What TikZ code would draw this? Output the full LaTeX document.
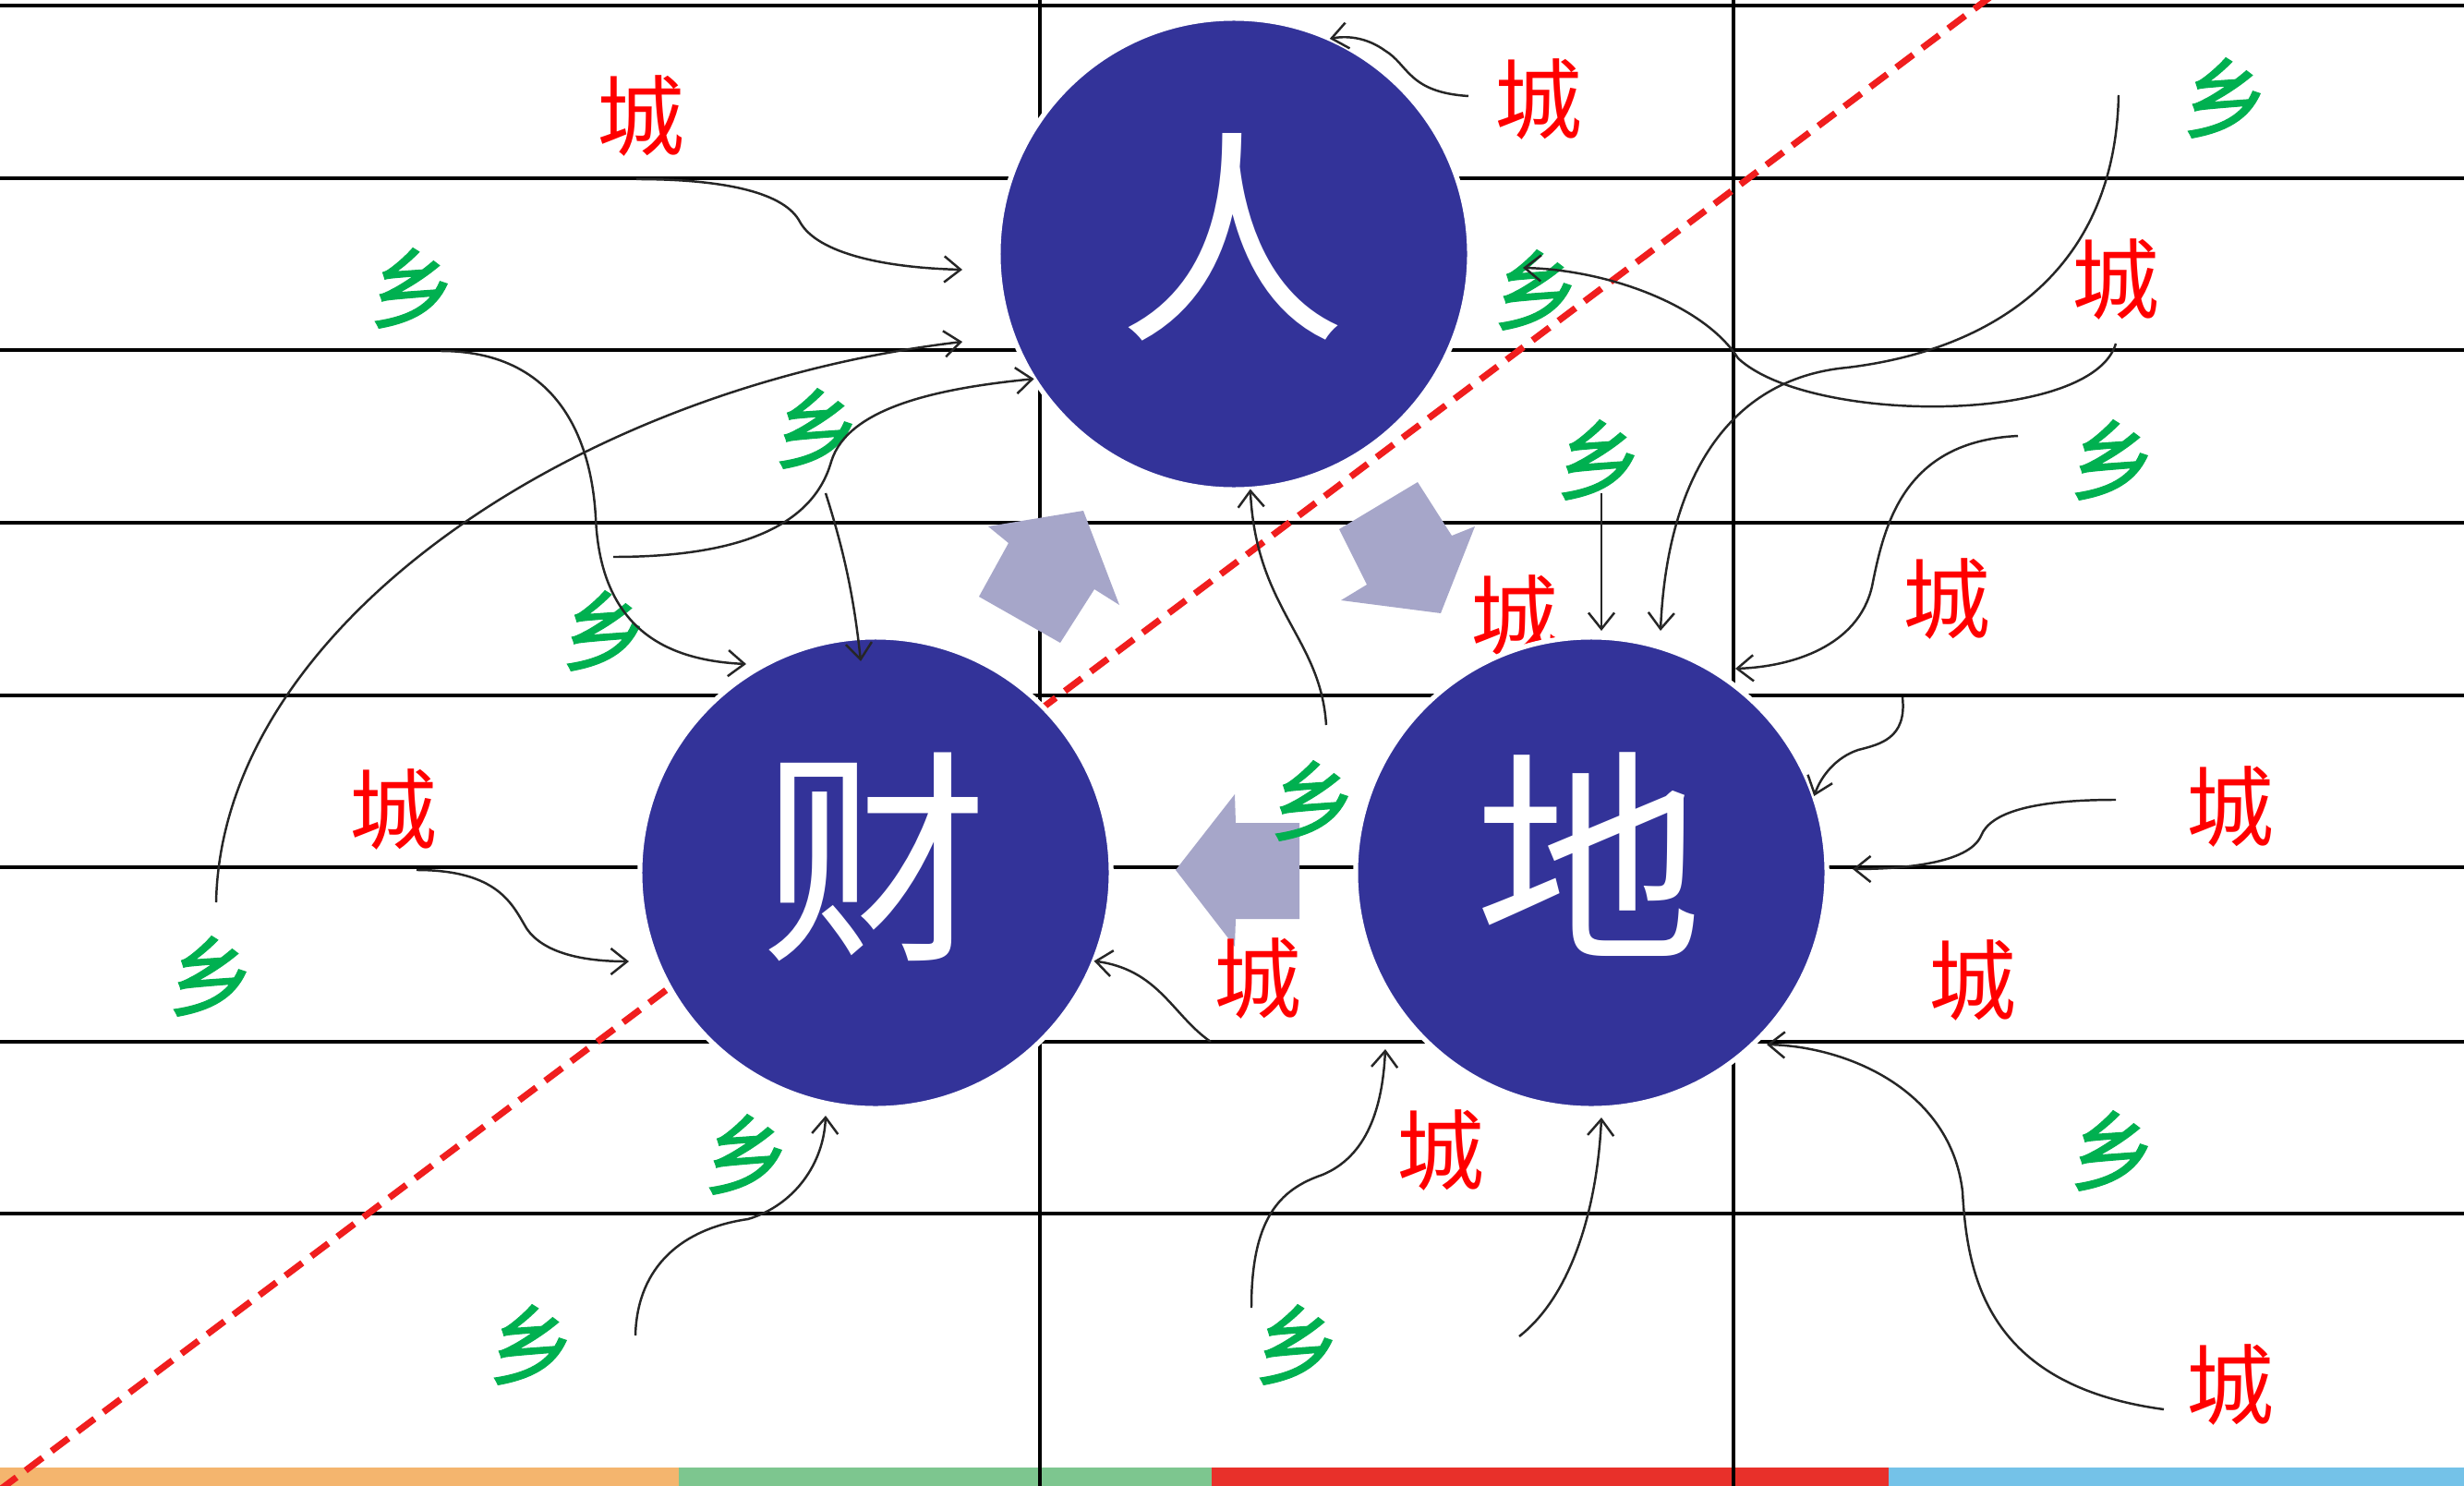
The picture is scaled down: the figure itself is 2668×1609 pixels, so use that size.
\documentclass[tikz,border=0pt]{standalone}
\usepackage{fontspec}
\newfontfamily\cjk{Noto Sans CJK SC}
\newfontfamily\cjkheavy[FakeBold=1.2]{Noto Sans CJK SC}
\usetikzlibrary{arrows.meta}
\definecolor{hubblue}{RGB}{51,51,153}
\definecolor{blockgray}{RGB}{166,166,201}
\definecolor{chengred}{RGB}{255,0,0}
\definecolor{xianggreen}{RGB}{0,176,80}
\definecolor{dividerred}{RGB}{240,30,30}
\definecolor{barorange}{RGB}{244,181,110}
\definecolor{bargreen}{RGB}{125,198,143}
\definecolor{barred}{RGB}{232,48,42}
\definecolor{barblue}{RGB}{116,194,232}
\begin{document}
\begin{tikzpicture}[x=0.01cm,y=-0.01cm,
  gridline/.style={line width=1.3pt,black},
  divider/.style={line width=2pt,dividerred,dash pattern=on 6.5pt off 3.5pt},
  hub/.style={circle,fill=hubblue,draw=white,line width=1.5pt,minimum size=5.1cm,inner sep=0pt,outer sep=0pt},
  hubtext/.style={text=white,font=\cjk\fontsize{70}{70}\selectfont,inner sep=0pt},
  cheng/.style={text=chengred,font=\cjk\fontsize{27}{27}\selectfont,inner sep=0pt},
  xiang/.style={text=xianggreen,font=\cjkheavy\fontsize{27}{27}\selectfont,inner sep=0pt},
  conn/.style={line width=0.7pt,black!85,-{Straight Barb[length=5pt,width=8pt]}},
  blockarrow/.style={fill=blockgray,draw=none}]
\useasboundingbox (0,0) rectangle (2668,1609);
\fill[white] (0,0) rectangle (2668,1609);
% bottom colour bar
\fill[barorange] (0,1589) rectangle (735,1609);
\fill[bargreen] (735,1589) rectangle (1312,1609);
\fill[barred] (1312,1589) rectangle (2045,1609);
\fill[barblue] (2045,1589) rectangle (2668,1609);
% grid
\foreach \yy in {6,193,379,566,753,939,1128,1314}
  \draw[gridline] (0,\yy) -- (2668,\yy);
\draw[gridline] (1126,0) -- (1126,1609);
\draw[gridline] (1877,0) -- (1877,1609);
% dashed divider
\draw[divider] (2156,-4) -- (0,1613);
% label hidden partly by circle
\node[cheng] (c4) at (1640,667) {城};
% hubs
\node[hub] (ren) at (1336,275) {};
\node[hub] (cai) at (948,945) {};
\node[hub] (di) at (1723,945) {};
\node[hubtext] (renT) at (1335,257) {人};
\node[hubtext] (caiT) at (948,928) {财};
\node[hubtext] (diT) at (1721,925) {地};
% block arrows
\fill[blockarrow] (1173,553) -- (1212,655) -- (1185,638) -- (1148,696) -- (1060,646) -- (1092,588) -- (1070,570) -- cycle;
\fill[blockarrow] (1560,664) -- (1597,570) -- (1572,580) -- (1535,522) -- (1450,573) -- (1480,633) -- (1452,650) -- cycle;
\fill[blockarrow] (1273,942) -- (1337,860) -- (1338,891) -- (1407,891) -- (1407,995) -- (1338,995) -- (1337,1025) -- cycle;
% labels
\node[cheng] (c1) at (694,126) {城};
\node[cheng] (c2) at (1666,108) {城};
\node[cheng] (c3) at (2291,303) {城};
\node[cheng] (c5) at (2108,649) {城};
\node[cheng] (c6) at (426,877) {城};
\node[cheng] (c7) at (2415,874) {城};
\node[cheng] (c8) at (1362,1060) {城};
\node[cheng] (c9) at (2136,1062) {城};
\node[cheng] (c10) at (1560,1246) {城};
\node[cheng] (c11) at (2415,1500) {城};
\node[xiang] (x1) at (447,312) {乡};
\node[xiang] (x2) at (885,464) {乡};
\node[xiang] (x3) at (655,683) {乡};
\node[xiang] (x4) at (2410,106) {乡};
\node[xiang] (x5) at (1664,314) {乡};
\node[xiang] (x6) at (1732,498) {乡};
\node[xiang] (x7) at (2288,498) {乡};
\node[xiang] (x8) at (229,1057) {乡};
\node[xiang] (x9) at (809,1250) {乡};
\node[xiang] (x10) at (576,1456) {乡};
\node[xiang] (x11) at (1422,867) {乡};
\node[xiang] (x12) at (2288,1246) {乡};
\node[xiang] (x13) at (1405,1456) {乡};
% connector ends
\coordinate (s1) at (689,194);   \coordinate (e1) at (1042,292);
\coordinate (s2) at (477,380);   \coordinate (e2) at (808,719);
\coordinate (s3) at (234,977);   \coordinate (e3) at (1042,370);
\coordinate (s4) at (664,603);
\coordinate (s5) at (894,534);   \coordinate (e5) at (932,716);
\coordinate (s6) at (1590,104);
\coordinate (s7) at (2294,103);  \coordinate (e7) at (1798,683);
\coordinate (s8) at (2291,372);  \coordinate (e8) at (1649,290);
\coordinate (s9) at (1734,534);  \coordinate (e9) at (1734,683);
\coordinate (s10) at (2185,472); \coordinate (e10) at (1879,724);
\coordinate (s11) at (2060,755);
\coordinate (s12) at (2291,866); \coordinate (e12) at (2006,941);
\coordinate (s13) at (2343,1526);\coordinate (e13) at (1913,1131);
\coordinate (s14) at (1355,1416);\coordinate (e14) at (1500,1136);
\coordinate (s15) at (1645,1447);\coordinate (e15) at (1734,1210);
\coordinate (s16) at (1436,785);
\coordinate (s17) at (1311,1128);
\coordinate (s18) at (451,942);  \coordinate (e18) at (681,1041);
\coordinate (s19) at (688,1446); \coordinate (e19) at (894,1208);
% connectors
\draw[conn] (s1) .. controls (790,194) and (850,210) .. (866,240) .. controls (885,275) and (960,290) .. (e1);
\draw[conn] (s2) .. controls (600,380) and (640,470) .. (645,560) .. controls (650,680) and (720,715) .. (e2);
\draw[conn] (s3) .. controls (240,680) and (620,420) .. (e3);
\draw[conn] (s4) .. controls (800,603) and (880,570) .. (900,500) .. controls (918,440) and (1020,420) .. (ren.212);
\draw[conn] (s5) .. controls (915,600) and (925,650) .. (e5);
\draw[conn] (s6) .. controls (1525,100) and (1525,70) .. (1500,55) .. controls (1482,42) and (1462,38) .. (ren.66);
\draw[conn] (s7) .. controls (2290,300) and (2150,380) .. (2000,398) .. controls (1870,410) and (1805,520) .. (e7);
\draw[conn] (s8) .. controls (2265,460) and (1960,460) .. (1882,388) .. controls (1845,330) and (1740,292) .. (e8);
\draw[conn] (s9) -- (e9);
\draw[conn] (s10) .. controls (2060,478) and (2040,570) .. (2027,635) .. controls (2012,700) and (1940,722) .. (e10);
\draw[conn] (s11) .. controls (2065,800) and (2035,806) .. (2012,812) .. controls (1988,820) and (1972,840) .. (di.19);
\draw[conn] (s12) .. controls (2200,866) and (2155,880) .. (2145,905) .. controls (2132,935) and (2060,941) .. (e12);
\draw[conn] (s13) .. controls (2150,1500) and (2130,1380) .. (2125,1290) .. controls (2112,1180) and (2000,1133) .. (e13);
\draw[conn] (s14) .. controls (1355,1320) and (1385,1288) .. (1432,1272) .. controls (1480,1252) and (1497,1200) .. (e14);
\draw[conn] (s15) .. controls (1705,1400) and (1730,1300) .. (e15);
\draw[conn] (s16) .. controls (1430,690) and (1360,660) .. (ren.274);
\draw[conn] (s17) .. controls (1270,1100) and (1255,1050) .. (cai.338);
\draw[conn] (s18) .. controls (540,942) and (555,980) .. (570,1005) .. controls (590,1035) and (640,1041) .. (e18);
\draw[conn] (s19) .. controls (690,1370) and (740,1330) .. (810,1320) .. controls (860,1305) and (892,1260) .. (e19);
\end{tikzpicture}
\end{document}
